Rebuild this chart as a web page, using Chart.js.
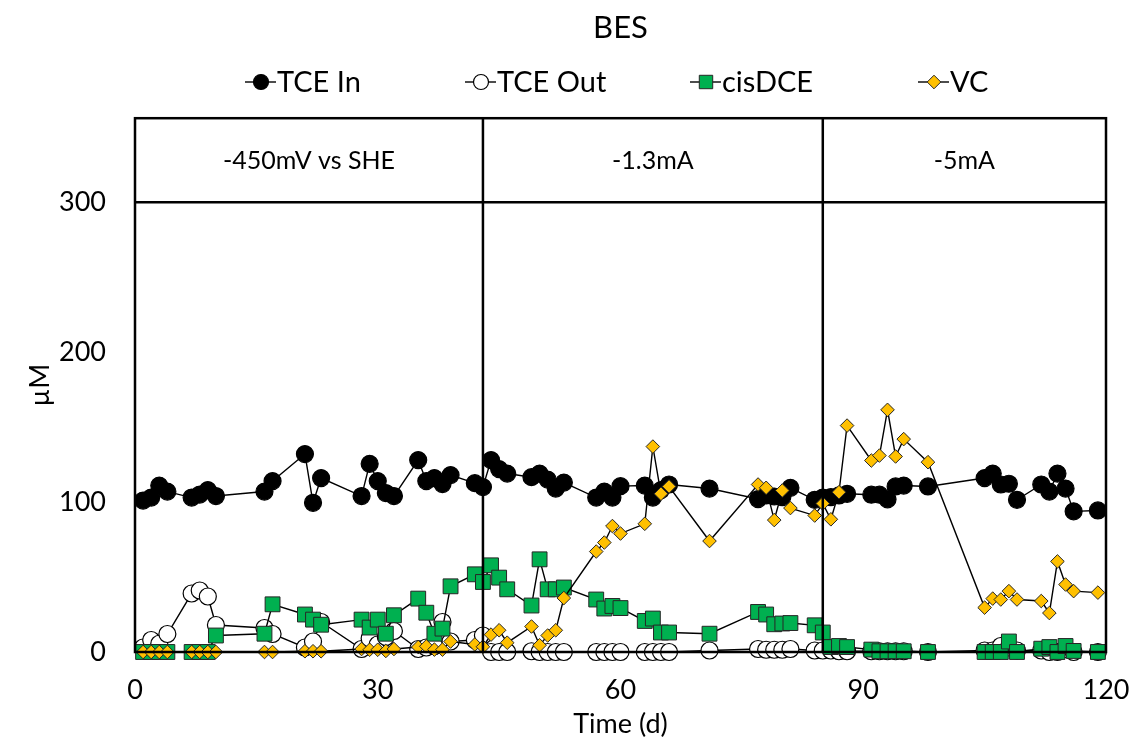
<!DOCTYPE html>
<html lang="en">
<head>
<meta charset="UTF-8">
<title>BES</title>
<script src="https://cdn.jsdelivr.net/npm/chart.js"></script>
<style>
  html, body { margin: 0; padding: 0; background: #fff; }
  .wrap { width: 1138px; height: 743px; }
</style>
</head>
<body>
<div class="wrap"><canvas id="chart"></canvas></div>
<script>
// sampling days (same for every series)
const days = [1, 2, 3, 4, 7, 8, 9, 10, 16, 17, 21, 22, 23, 28, 29, 30, 31, 32, 35, 36, 37, 38, 39,
  42, 43, 44, 45, 46, 49, 50, 51, 52, 53, 57, 58, 59, 60, 63, 64, 65, 66, 71, 77, 78, 79, 80, 81,
  84, 85, 86, 87, 88, 91, 92, 93, 94, 95, 98, 105, 106, 107, 108, 109, 112, 113, 114, 115, 116, 119];

const tceIn = [101, 103, 111, 107, 103, 105, 108, 104, 107, 114, 132, 99.5, 116, 104, 125.5, 114, 106, 104, 128, 114, 116, 112, 118,
  112.6, 110, 128, 122, 119, 116.6, 119, 115, 109, 113, 103, 107, 103, 110.6, 111, 103, 108, 111.7, 109, 102, 104.4, 103.7, 103.3, 109.5,
  101.5, 103, 103.3, 104.4, 105.5, 104.9, 104.9, 101.8, 110.4, 111, 110.4, 116, 119, 111.7, 112.2, 101.5, 111.7, 107, 119, 109, 93.8, 94.4];

const tceOut = [3, 8, 5.5, 12, 39, 41, 37, 18, 16, 12, 3, 7, 20, 2, 9, 5, 10, 14, 2, 3, 4, 20, 7,
  8, 11, 0, 0, 0, 0.5, 0, 0, 0, 0, 0, 0, 0, 0, 0, 0, 0, 0, 1, 2, 1.5, 1.5, 1.5, 2,
  1, 1, 1, 0.5, 0.5, 0.5, 0.5, 0.5, 0.5, 0.5, 0, 1, 1, 4, 3, 1, 1, 0, 0, 2, 0, 0];

const cisDCE = [0, 0, 0, 0, 0, 0, 0, 11, 12.2, 31.8, 25, 21.6, 18.2, 21.6, 16.3, 21.6, 12.2, 24.5, 35.6, 26.2, 12.2, 15.6, 43.8,
  51.8, 46.7, 57.8, 49.6, 41.8, 31, 61.8, 41.8, 41.8, 43, 35, 29, 30.7, 29.3, 20.7, 22.3, 13, 13, 12.2, 26.7, 25, 18.5, 19, 19.3,
  17.8, 13, 3.3, 4, 3.3, 1.6, 0.5, 0.5, 0.5, 0.5, 0, 0, 0, 0, 7, 0, 2.2, 3.3, 0, 4, 0.7, 0];

const vc = [0, 0, 0, 0, 0, 0, 0, 0, 0, 0, 0.5, 0.5, 0.5, 2, 1.5, 1.5, 0.7, 2, 3.3, 3.8, 1.6, 1.6, 7,
  5, 3.5, 11.6, 14.5, 6.2, 17, 4.5, 11, 14.5, 36, 67, 73, 84, 79, 85.5, 137, 105.5, 110.4, 74, 111.7, 109.5, 88, 107.7, 96,
  91, 99, 88.5, 106.6, 151, 127.7, 131, 161.5, 130.4, 142, 126.6, 29.6, 35.6, 35, 40.6, 35, 34, 26, 60.4, 45, 40.6, 39.6];

const seriesNames = ['TCE In', 'TCE Out', 'cisDCE', 'VC'];

// operating phases shown in the top band of the plot
const phaseBounds = [0, 43, 85, 120];
const phaseLabels = ['-450mV vs SHE', '-1.3mA', '-5mA'];
const phaseBandBottom = 300;

const xTicks = [0, 30, 60, 90, 120];
const yTicks = [0, 100, 200, 300];
const yMax = 356;

const FONT = 'Lato, "Open Sans", sans-serif';
Chart.defaults.font.family = FONT;
Chart.defaults.color = '#000';

const toPoints = vals => days.map((d, i) => ({ x: d, y: vals[i] }));

const styles = [
  { pointStyle: 'circle', radius: 8.5, fill: '#000000', stroke: '#000000', bw: 1.2, legendR: 7.5 },
  { pointStyle: 'circle', radius: 8.5, fill: '#ffffff', stroke: '#000000', bw: 1.2, legendR: 7.5 },
  { pointStyle: 'rect', radius: 10.5, fill: '#00b050', stroke: '#262626', bw: 1, legendR: 9.5 },
  { pointStyle: 'rectRot', radius: 6.8, fill: '#ffc000', stroke: '#262626', bw: 1, legendR: 6.8 }
];
const seriesData = [tceIn, tceOut, cisDCE, vc];

const datasets = seriesData.map((vals, i) => ({
  label: seriesNames[i],
  data: toPoints(vals),
  showLine: true,
  clip: false,
  borderColor: '#000',
  borderWidth: 1.4,
  pointStyle: styles[i].pointStyle,
  pointRadius: styles[i].radius,
  pointHoverRadius: styles[i].radius,
  pointBackgroundColor: styles[i].fill,
  pointBorderColor: styles[i].stroke,
  pointBorderWidth: styles[i].bw,
  order: 4 - i
}));

function marker(ctx, style, x, y, r, fill, stroke, bw) {
  ctx.beginPath();
  if (style === 'circle') {
    ctx.arc(x, y, r, 0, Math.PI * 2);
  } else if (style === 'rect') {
    const s = r * Math.SQRT1_2;
    ctx.rect(x - s, y - s, 2 * s, 2 * s);
  } else {
    ctx.moveTo(x, y - r); ctx.lineTo(x + r, y); ctx.lineTo(x, y + r); ctx.lineTo(x - r, y);
    ctx.closePath();
  }
  ctx.fillStyle = fill;
  ctx.fill();
  ctx.lineWidth = bw;
  ctx.strokeStyle = stroke;
  ctx.stroke();
}

// frame, phase dividers and phase labels
const phasePlugin = {
  id: 'phases',
  afterDatasetsDraw(chart) {
    const { ctx, chartArea: a, scales: { x, y } } = chart;
    ctx.save();
    ctx.strokeStyle = '#000';
    ctx.lineWidth = 2.5;
    ctx.strokeRect(a.left, a.top, a.right - a.left, a.bottom - a.top);
    const yb = y.getPixelForValue(phaseBandBottom);
    ctx.beginPath();
    ctx.moveTo(a.left, yb); ctx.lineTo(a.right, yb);
    for (let i = 1; i < phaseBounds.length - 1; i++) {
      const px = x.getPixelForValue(phaseBounds[i]);
      ctx.moveTo(px, a.top); ctx.lineTo(px, a.bottom);
    }
    ctx.stroke();
    ctx.fillStyle = '#000';
    ctx.font = '25px ' + FONT;
    ctx.textAlign = 'center';
    ctx.textBaseline = 'middle';
    const ym = y.getPixelForValue((phaseBandBottom + yMax) / 2) + 1;
    phaseLabels.forEach((t, i) => {
      const xm = (x.getPixelForValue(phaseBounds[i]) + x.getPixelForValue(phaseBounds[i + 1])) / 2;
      ctx.fillText(t, xm, ym);
    });
    ctx.restore();
  }
};

// legend with line-through markers like the original
const legendPlugin = {
  id: 'lineLegend',
  afterDraw(chart) {
    const ctx = chart.ctx;
    const itemX = [245, 465, 690, 918];
    const ly = 82;
    ctx.save();
    ctx.font = '29px ' + FONT;
    ctx.textBaseline = 'middle';
    ctx.textAlign = 'left';
    seriesNames.forEach((name, i) => {
      const x0 = itemX[i];
      const cx = x0 + 16;
      ctx.beginPath();
      ctx.moveTo(x0, ly); ctx.lineTo(x0 + 31, ly);
      ctx.strokeStyle = '#000';
      ctx.lineWidth = 1.4;
      ctx.stroke();
      const s = styles[i];
      marker(ctx, s.pointStyle, cx, ly, s.legendR, s.fill, s.stroke, s.bw);
      ctx.fillStyle = '#000';
      ctx.fillText(name, x0 + 32, ly + 1);
    });
    ctx.restore();
  }
};

new Chart(document.getElementById('chart'), {
  type: 'scatter',
  data: { datasets },
  options: {
    responsive: true,
    maintainAspectRatio: false,
    animation: false,
    layout: { padding: { left: 0, right: 32, top: 0, bottom: 0 } },
    plugins: {
      legend: { display: false },
      tooltip: { enabled: false },
      title: {
        display: true,
        fullSize: false,
        text: 'BES',
        color: '#000',
        font: { size: 31, weight: 'normal' },
        padding: { top: 9, bottom: 72 }
      }
    },
    scales: {
      x: {
        type: 'linear',
        min: 0,
        max: 120,
        afterBuildTicks(s) { s.ticks = xTicks.map(v => ({ value: v })); },
        ticks: { padding: 22, font: { size: 27 }, color: '#000' },
        grid: { display: false, drawTicks: false },
        border: { display: false },
        title: { display: true, text: 'Time (d)', color: '#000', font: { size: 27 }, padding: { top: 0, bottom: 3 } },
        afterFit(s) { s.height = 91; s.paddingLeft = 0; s.paddingRight = 0; }
      },
      y: {
        type: 'linear',
        min: 0,
        max: yMax,
        afterBuildTicks(s) { s.ticks = yTicks.map(v => ({ value: v })); },
        ticks: { padding: 29, font: { size: 27 }, color: '#000' },
        grid: { display: false, drawTicks: false },
        border: { display: false },
        title: { display: true, text: 'µM', color: '#000', font: { size: 27 }, padding: { top: 24, bottom: 0 } },
        afterFit(s) { s.width = 135; }
      }
    }
  },
  plugins: [phasePlugin, legendPlugin]
});
</script>
</body>
</html>
